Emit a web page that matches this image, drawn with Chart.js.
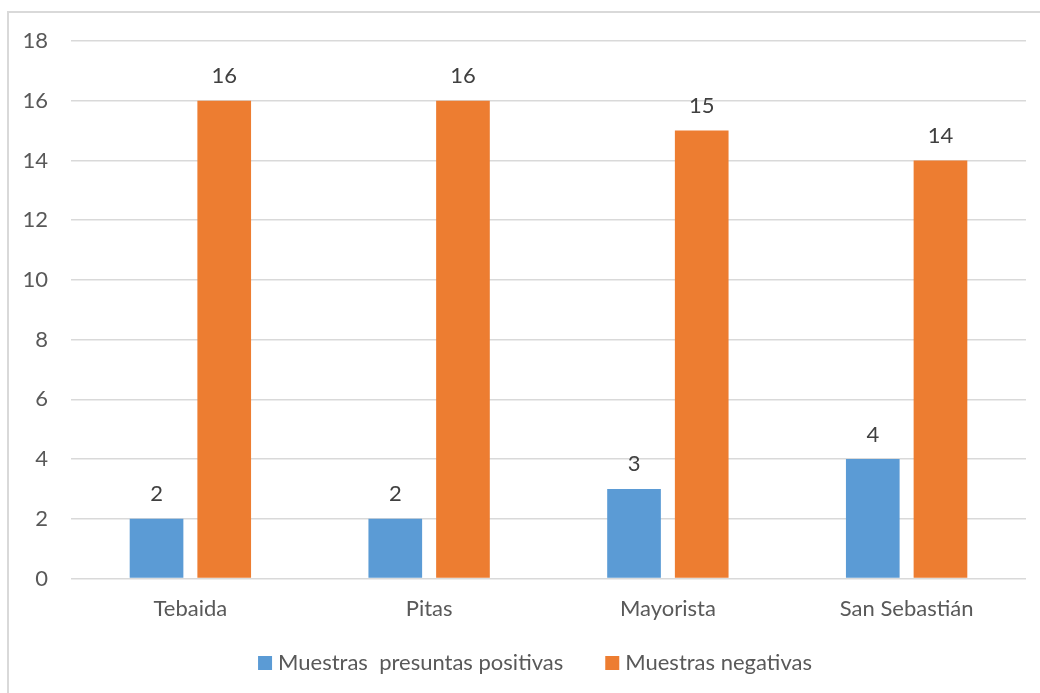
<!DOCTYPE html>
<html>
<head>
<meta charset="utf-8">
<script src="https://cdn.jsdelivr.net/npm/chart.js@4/dist/chart.umd.min.js"></script>
<style>
  html, body { margin: 0; padding: 0; background: #ffffff; overflow: hidden; }
  body { width: 1040px; height: 693px; position: relative; }
  #frame {
    position: absolute; left: 7px; top: 11px; width: 1100px; height: 760px;
    border: 2px solid #d9d9d9; box-sizing: border-box;
  }
  #wrap { position: absolute; left: 0; top: 0; width: 1040px; height: 693px; }
</style>
</head>
<body>
<div id="frame"></div>
<div id="wrap"><canvas id="chart" width="1040" height="693"></canvas></div>
<script>
// Sampling sites and sample counts
const categories = ['Tebaida', 'Pitas', 'Mayorista', 'San Sebastián'];
const positivas = [2, 2, 3, 4];
const negativas = [16, 16, 15, 14];
const seriesNames = ['Muestras  presuntas positivas', 'Muestras negativas'];
const yMin = 0, yMax = 18, yStep = 2;

const FONT = 'Lato, "Open Sans", sans-serif';
const FONT_SIZE = 22;
const TEXT_GREY = '#595959';
const GRID_GREY = '#d9d9d9';

// Value labels above each bar
const barValueLabels = {
  id: 'barValueLabels',
  afterDatasetsDraw(chart) {
    const ctx = chart.ctx;
    ctx.save();
    ctx.font = FONT_SIZE + 'px ' + FONT;
    ctx.fillStyle = '#404040';
    ctx.textAlign = 'center';
    ctx.textBaseline = 'alphabetic';
    chart.data.datasets.forEach((ds, di) => {
      const meta = chart.getDatasetMeta(di);
      meta.data.forEach((bar, i) => {
        ctx.fillText(String(ds.data[i]), bar.x, bar.y - 17.5);
      });
    });
    ctx.restore();
  }
};

// Legend row under the category labels
const bottomLegend = {
  id: 'bottomLegend',
  afterDraw(chart) {
    const ctx = chart.ctx;
    const box = 14, textGap = 6, itemGap = 42;
    const baseline = 670;
    const centerX = 535;
    ctx.save();
    ctx.font = FONT_SIZE + 'px ' + FONT;
    const items = chart.data.datasets.map(ds => ({
      label: ds.label, color: ds.backgroundColor, w: ctx.measureText(ds.label).width
    }));
    let total = 0;
    items.forEach((it, i) => { total += box + textGap + it.w + (i ? itemGap : 0); });
    let x = centerX - total / 2;
    items.forEach((it) => {
      ctx.fillStyle = it.color;
      ctx.fillRect(x, baseline - box, box, box);
      ctx.fillStyle = TEXT_GREY;
      ctx.textAlign = 'left';
      ctx.textBaseline = 'alphabetic';
      ctx.fillText(it.label, x + box + textGap, baseline);
      x += box + textGap + it.w + itemGap;
    });
    ctx.restore();
  }
};

new Chart(document.getElementById('chart'), {
  type: 'bar',
  data: {
    labels: categories,
    datasets: [
      { label: seriesNames[0], data: positivas, backgroundColor: '#5b9bd5' },
      { label: seriesNames[1], data: negativas, backgroundColor: '#ed7d31' }
    ]
  },
  options: {
    responsive: false,
    animation: false,
    events: [],
    layout: { padding: { left: 0, top: 41, right: 14, bottom: 0 } },
    datasets: { bar: { categoryPercentage: 0.567, barPercentage: 0.793 } },
    plugins: { legend: { display: false }, tooltip: { enabled: false } },
    scales: {
      x: {
        grid: { display: false, drawTicks: false },
        border: { display: false },
        ticks: { color: TEXT_GREY, font: { family: FONT, size: FONT_SIZE }, padding: 17 },
        afterFit(scale) { scale.height = 693 - 578.5; }
      },
      y: {
        min: yMin, max: yMax,
        grid: { color: GRID_GREY, lineWidth: 1.5, drawTicks: false },
        border: { display: false },
        ticks: { stepSize: yStep, color: TEXT_GREY, font: { family: FONT, size: FONT_SIZE }, padding: 23 },
        afterFit(scale) { scale.width = 71; }
      }
    }
  },
  plugins: [barValueLabels, bottomLegend]
});
</script>
</body>
</html>
